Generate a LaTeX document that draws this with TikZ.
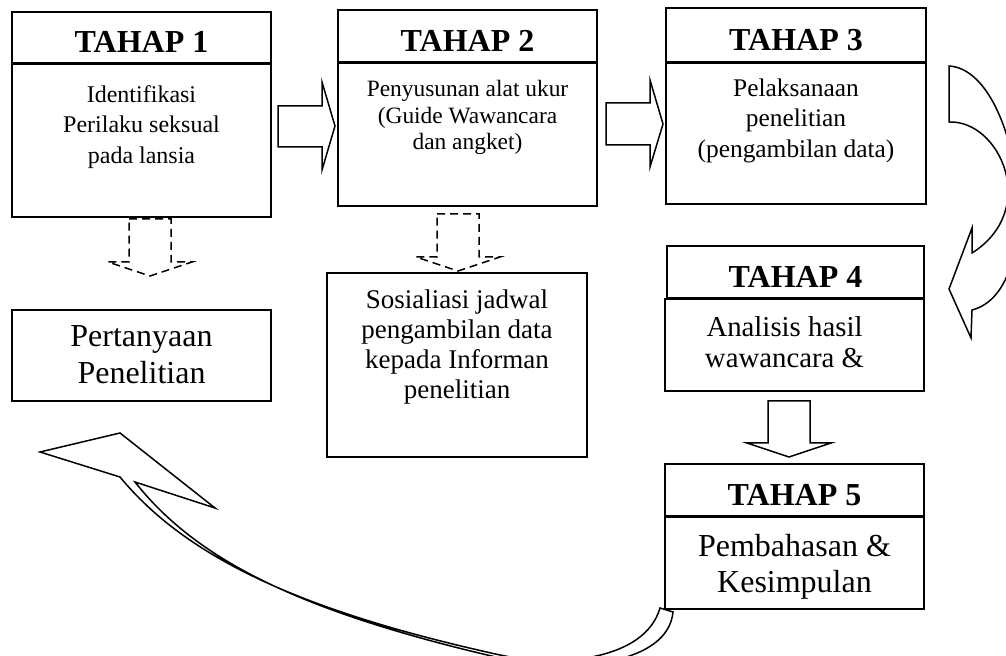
\documentclass[tikz,border=0pt]{standalone}
\usepackage{fontspec}
\setmainfont{Liberation Serif}
\usetikzlibrary{positioning}

\tikzset{
  kepala/.style={draw, line width=1pt, minimum width=129.5pt, inner sep=0pt,
    font=\fontsize{16}{18}\selectfont\bfseries, text height=15.3pt, text depth=0pt},
  isi/.style={draw, line width=1pt, minimum width=129.5pt, inner sep=0pt},
  teks/.style={inner sep=0pt, align=center},
  panah/.style={draw, line width=0.75pt, line join=miter},
  putus/.style={panah, dash pattern=on 4pt off 2.5pt}
}

\begin{document}
\begin{tikzpicture}[x=0.5pt,y=-0.5pt]
\useasboundingbox (0,0) rectangle (1006,656);
% ---------- TAHAP 1 ----------
\node[kepala, minimum height=25.5pt] (k1) at (141.5,37.5) {TAHAP 1};
\node[isi, minimum height=76.5pt] (i1) at (141.5,140.5) {};
\node[teks, font=\fontsize{12}{15.25}\selectfont, below=11pt of i1.north] (t1)
  {Identifikasi\\Perilaku seksual\\pada lansia};
% ---------- TAHAP 2 ----------
\node[kepala, minimum height=26pt] (k2) at (467.5,36) {TAHAP 2};
\node[isi, minimum height=71.5pt] (i2) at (467.5,134.5) {};
\node[teks, font=\fontsize{11.7}{13.3}\selectfont, below=9pt of i2.north] (t2)
  {Penyusunan alat ukur\\(Guide Wawancara\\dan angket)};
% ---------- TAHAP 3 ----------
\node[kepala, minimum height=27pt, minimum width=130pt] (k3) at (796,35) {TAHAP 3};
\node[isi, minimum height=70.5pt, minimum width=130pt] (i3) at (796,133.5) {};
\node[teks, font=\fontsize{12.7}{15.25}\selectfont, below=8pt of i3.north] (t3)
  {Pelaksanaan\\penelitian\\(pengambilan data)};
% ---------- TAHAP 4 ----------
\node[kepala, minimum height=26pt, minimum width=128.5pt] (k4) at (795.5,272) {TAHAP 4};
\node[isi, minimum height=46pt] (i4) at (794.5,345) {};
\node[teks, font=\fontsize{14.4}{15.5}\selectfont, below=9pt of i4.north,
  xshift=-5pt] (t4) {Analisis hasil\\wawancara \&};
% ---------- TAHAP 5 ----------
\node[kepala, minimum height=26pt] (k5) at (794.5,490) {TAHAP 5};
\node[isi, minimum height=46pt] (i5) at (794.5,563) {};
\node[teks, font=\fontsize{16}{18}\selectfont, below=9pt of i5.north] (t5)
  {Pembahasan \&\\Kesimpulan};
% ---------- hasil tahap 1 dan 2 ----------
\node[isi, minimum height=45.5pt] (p1) at (141.5,355.5) {};
\node[teks, font=\fontsize{16}{18.5}\selectfont, below=8pt of p1.north] (tp)
  {Pertanyaan\\Penelitian};
\node[isi, minimum height=92pt, minimum width=130pt] (s2) at (457,365) {};
\node[teks, font=\fontsize{13.5}{15}\selectfont, below=8.5pt of s2.north] (ts)
  {Sosialiasi jadwal\\pengambilan data\\kepada Informan\\penelitian};
% ---------- panah blok ----------
\draw[panah] (278,106) -- (322,106) -- (322,82) -- (335,126) -- (322,170)
  -- (322,147) -- (278,147) -- cycle;
\draw[panah] (606,103) -- (650,103) -- (650,80) -- (663,124) -- (650,167)
  -- (650,145) -- (606,145) -- cycle;
\draw[panah] (768,401) -- (810,401) -- (810,443) -- (831,443) -- (789,457)
  -- (747,443) -- (768,443) -- cycle;
% panah putus-putus ke bawah
\draw[putus] (129,219) -- (171,219) -- (171,262) -- (192,262) -- (150,276)
  -- (108,262) -- (129,262) -- cycle;
\draw[putus] (437,214) -- (479,214) -- (479,257) -- (500,257) -- (458,271)
  -- (416,257) -- (437,257) -- cycle;
% ---------- panah lengkung ----------
% tahap 3 -> tahap 4
\draw[panah] (949,66) .. controls (1020,70) and (1050,290) .. (972,310)
  -- (971,338) -- (949,289) -- (972,228) -- (972,253)
  .. controls (1040,210) and (1000,120) .. (949,122) -- cycle;
% tahap 5 -> pertanyaan penelitian
\draw[panah] (40,452) -- (120,433) -- (215,508) -- (135,482)
  .. controls (198,562) and (305,613) .. (500,658)
  .. controls (575,674) and (668,664) .. (673,612) -- (660,608)
  .. controls (645,660) and (560,668) .. (500,655)
  .. controls (300.5,611) and (186.5,557.5) .. (120,477) -- cycle;
\end{tikzpicture}
\end{document}
